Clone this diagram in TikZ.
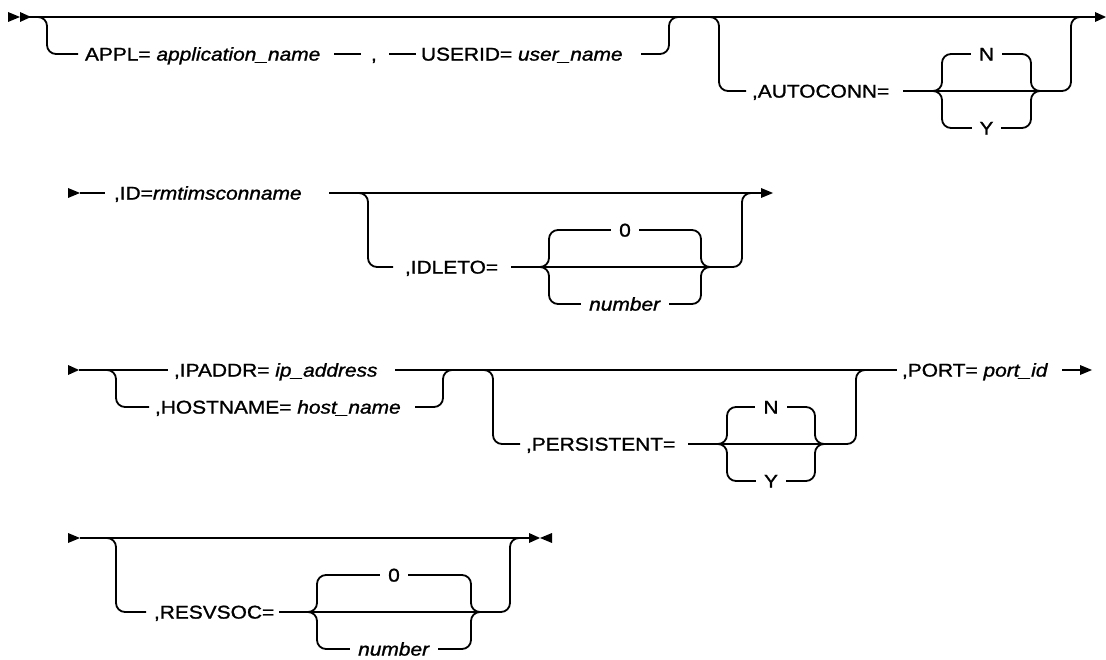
\documentclass[tikz,border=0pt]{standalone}
\usepackage{fontspec}
\setmainfont{Liberation Sans}[FakeStretch=1.13,FakeBold=1.2]
\newcommand\railchoice[8]{%
  \draw[rail] (#1,#4) -- (#2,#4);
  \draw[rail] (#1,#4) -- (#1+9,#4) -- (#1+9,#3) -- (#2-9,#3) -- (#2-9,#4) -- (#2,#4);
  \draw[rail] (#1,#4) -- (#1+9,#4) -- (#1+9,#5) -- (#2-9,#5) -- (#2-9,#4) -- (#2,#4);
  \node[opt] (#8a) at ({(#1+#2)/2},#3) {#6};
  \node[opt] (#8b) at ({(#1+#2)/2},#5) {#7};
}
\begin{document}
\begin{tikzpicture}[x=1pt,y=-1pt,
  rail/.style={line width=1.8pt, rounded corners=9pt},
  lbl/.style={inner sep=0pt, outer sep=0pt, text height=13.2pt, text depth=0pt, anchor=west},
  opt/.style={lbl, anchor=center, fill=white, inner xsep=8pt},
  font=\fontsize{18.5pt}{22pt}\selectfont]
\useasboundingbox (0,0) rectangle (1106,660);

% ---------------- Row 1
\fill (8,12) -- (20,17) -- (8,22) -- cycle;
\fill (20,12) -- (31,17) -- (20,22) -- cycle;
\draw[rail] (20,17) -- (1096,17);
\fill (1095,12) -- (1106,17) -- (1095,22) -- cycle;
\draw[rail] (37,17) -- (47,17) -- (47,54) -- (78,54);
\node[lbl] (appl) at (85,54) {APPL= \textit{application\_name}};
\draw[rail] (334,54) -- (361,54);
\node[lbl] (comma) at (371,54) {,};
\draw[rail] (389,54) -- (416,54);
\node[lbl] (userid) at (421,54) {USERID= \textit{user\_name}};
\draw[rail] (641,54) -- (669,54) -- (669,17) -- (679,17);
\draw[rail] (709,17) -- (719,17) -- (719,91) -- (746,91);
\node[lbl] (autoconn) at (752,91) {,AUTOCONN=};
\draw[rail] (903,91) -- (933,91);
\railchoice{933}{1040}{54}{91}{128}{N}{Y}{ac}
\draw[rail] (1040,91) -- (1071,91) -- (1071,17) -- (1081,17);

% ---------------- Row 2
\fill (68,188) -- (80,193) -- (68,198) -- cycle;
\draw[rail] (80,193) -- (105,193);
\node[lbl] (id) at (114,193) {,ID=\textit{rmtimsconname}};
\draw[rail] (329,193) -- (762,193);
\fill (761,188) -- (773,193) -- (761,198) -- cycle;
\draw[rail] (358,193) -- (368,193) -- (368,267) -- (393,267);
\node[lbl] (idleto) at (405,267) {,IDLETO=};
\draw[rail] (511,267) -- (540,267);
\railchoice{540}{710}{230}{267}{304}{0}{\textit{number}}{il}
\draw[rail] (710,267) -- (742,267) -- (742,193) -- (752,193);

% ---------------- Row 3
\fill (68,365) -- (79,370) -- (68,375) -- cycle;
\draw[rail] (79,370) -- (168,370);
\node[lbl] (ipaddr) at (174,370) {,IPADDR= \textit{ip\_address}};
\draw[rail] (395,370) -- (897,370);
\draw[rail] (107,370) -- (116,370) -- (116,407) -- (149,407);
\node[lbl] (hostname) at (155,407) {,HOSTNAME= \textit{host\_name}};
\draw[rail] (415,407) -- (443,407) -- (443,370) -- (453,370);
\draw[rail] (484,370) -- (493,370) -- (493,444) -- (520,444);
\node[lbl] (persistent) at (526,444) {,PERSISTENT=};
\draw[rail] (688,444) -- (718,444);
\railchoice{718}{824}{407}{444}{481}{N}{Y}{pe}
\draw[rail] (824,444) -- (856,444) -- (856,370) -- (866,370);
\node[lbl] (port) at (902,370) {,PORT= \textit{port\_id}};
\draw[rail] (1062,370) -- (1081,370);
\fill (1080,365) -- (1092,370) -- (1080,375) -- cycle;

% ---------------- Row 4
\fill (68,533) -- (80,538) -- (68,543) -- cycle;
\draw[rail] (80,538) -- (530,538);
\fill (529,533) -- (540,538) -- (529,543) -- cycle;
\fill (552,533) -- (540,538) -- (552,543) -- cycle;
\draw[rail] (107,538) -- (116,538) -- (116,612) -- (146,612);
\node[lbl] (resvsoc) at (154,612) {,RESVSOC=};
\draw[rail] (279,612) -- (308,612);
\railchoice{308}{480}{575}{612}{649}{0}{\textit{number}}{rs}
\draw[rail] (480,612) -- (510,612) -- (510,538) -- (520,538);
\end{tikzpicture}
\end{document}
